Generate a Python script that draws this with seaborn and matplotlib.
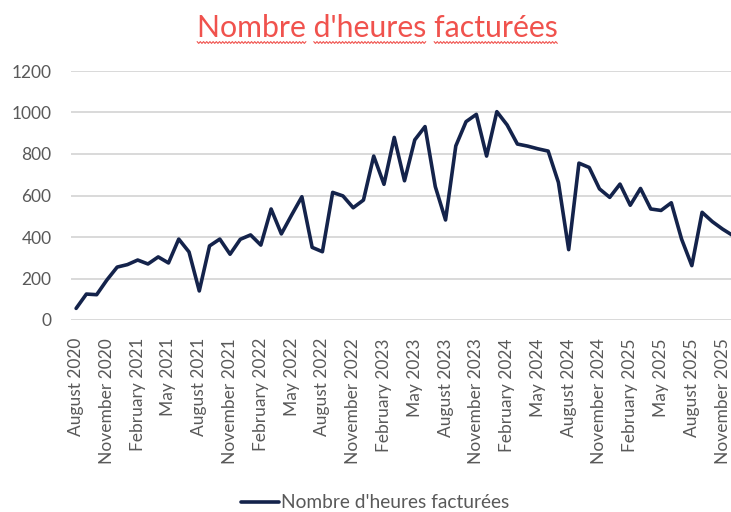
import matplotlib
matplotlib.use("Agg")
import matplotlib.pyplot as plt
import numpy as np
import pandas as pd
import seaborn as sns
from matplotlib.lines import Line2D

# ---------------- data ----------------
month_labels = [
    "Aug 2020", "Sep 2020", "Oct 2020", "Nov 2020", "Dec 2020",
    "Jan 2021", "Feb 2021", "Mar 2021", "Apr 2021", "May 2021", "Jun 2021",
    "Jul 2021", "Aug 2021", "Sep 2021", "Oct 2021", "Nov 2021", "Dec 2021",
    "Jan 2022", "Feb 2022", "Mar 2022", "Apr 2022", "May 2022", "Jun 2022",
    "Jul 2022", "Aug 2022", "Sep 2022", "Oct 2022", "Nov 2022", "Dec 2022",
    "Jan 2023", "Feb 2023", "Mar 2023", "Apr 2023", "May 2023", "Jun 2023",
    "Jul 2023", "Aug 2023", "Sep 2023", "Oct 2023", "Nov 2023", "Dec 2023",
    "Jan 2024", "Feb 2024", "Mar 2024", "Apr 2024", "May 2024", "Jun 2024",
    "Jul 2024", "Aug 2024", "Sep 2024", "Oct 2024", "Nov 2024", "Dec 2024",
    "Jan 2025", "Feb 2025", "Mar 2025", "Apr 2025", "May 2025", "Jun 2025",
    "Jul 2025", "Aug 2025", "Sep 2025", "Oct 2025", "Nov 2025", "Dec 2025",
]
heures = [
    56, 125, 122, 193, 255,
    267, 289, 270, 304, 275, 390,
    328, 140, 357, 390, 317, 389,
    410, 361, 535, 415, 506, 594,
    350, 329, 615, 598, 541, 578,
    790, 654, 880, 671, 868, 932,
    643, 482, 839, 956, 991, 790,
    1004, 940, 848, 838, 825, 814,
    663, 339, 756, 735, 632, 591,
    655, 553, 634, 535, 528, 565,
    390, 262, 519, 474, 438, 407,
]
tick_labels = [
    "August 2020", "November 2020", "February 2021", "May 2021",
    "August 2021", "November 2021", "February 2022", "May 2022",
    "August 2022", "November 2022", "February 2023", "May 2023",
    "August 2023", "November 2023", "February 2024", "May 2024",
    "August 2024", "November 2024", "February 2025", "May 2025",
    "August 2025", "November 2025",
]
y_ticks = [0, 200, 400, 600, 800, 1000, 1200]
series_name = "Nombre d'heures facturées"
title_text = "Nombre d'heures facturées"

# ---------------- style ----------------
sns.set_theme(style="white")
plt.rcParams['font.family'] = ['Lato', 'DejaVu Sans']

W, H = 731, 512
LINE_COLOR = "#14234B"
TEXT_GRAY = "#595959"
TITLE_RED = "#F0524D"
GRID_GRAY = "#D9D9D9"

fig = plt.figure(figsize=(W / 100, H / 100), dpi=100)
fig.patch.set_facecolor("white")

# axes in pixel geometry: left 71, right 738 (clipped), top 71, bottom 320
ax = fig.add_axes([71 / W, (H - 320) / H, (738 - 71) / W, (320 - 71) / H])

df = pd.DataFrame({"mois": month_labels, "idx": np.arange(len(heures)), series_name: heures})
sns.lineplot(data=df, x="idx", y=series_name, ax=ax, color=LINE_COLOR,
             linewidth=2.6, label=series_name, legend=False)
ax.lines[0].set_solid_joinstyle("round")

ax.set_xlim(-0.5, len(heures) - 0.5)
ax.set_ylim(0, 1200)
ax.set_yticks(y_ticks)
ax.set_yticklabels([str(v) for v in y_ticks])
ax.set_xticks(np.arange(0, len(heures), 3)[:len(tick_labels)])
ax.set_xticklabels(tick_labels, rotation=90, ha="center", va="top")
ax.set_xlabel("")
ax.set_ylabel("")

ax.grid(axis="y", color=GRID_GRAY, linewidth=1.4)
ax.grid(axis="x", visible=False)
ax.set_axisbelow(True)
for s in ax.spines.values():
    s.set_visible(False)
ax.tick_params(axis="y", length=0, pad=14, labelsize=12.5, labelcolor=TEXT_GRAY)
ax.tick_params(axis="x", length=0, pad=13, labelsize=12.5, labelcolor=TEXT_GRAY)

# legend
handle = Line2D([], [], color=LINE_COLOR, linewidth=2.6)
fig.legend([handle], [series_name], loc="center", bbox_to_anchor=(375 / W, 1 - 503 / H),
           frameon=False, fontsize=13.8, handlelength=2.0, handletextpad=0.1,
           labelcolor=TEXT_GRAY)

# title
t = fig.text(377.5 / W, 1 - 37 / H, title_text, ha="center", va="baseline",
             fontsize=21.8, color=TITLE_RED)

# wavy spell-check style underline under each word
fig.canvas.draw()
renderer = fig.canvas.get_renderer()
bb = t.get_window_extent(renderer)
fp = t.get_fontproperties()
def text_w(s):
    w, h, d = renderer.get_text_width_height_descent(s, fp, ismath=False)
    return w
x0 = bb.x0
y_line = H - 42.5  # pixels from bottom
pos = 0
words = title_text.split(" ")
for wd in words:
    start = x0 + (text_w(title_text[:pos]) if pos > 0 else 0)
    end = x0 + text_w(title_text[:pos + len(wd)])
    xs = np.arange(start, end + 0.01, 1.6)
    ys = y_line + np.where(np.arange(len(xs)) % 2 == 0, 0.9, -0.9)
    fig.add_artist(Line2D(xs / W, ys / H, transform=fig.transFigure,
                          color=TITLE_RED, linewidth=0.8))
    pos += len(wd) + 1

fig.savefig("out.png", dpi=100, facecolor="white")
